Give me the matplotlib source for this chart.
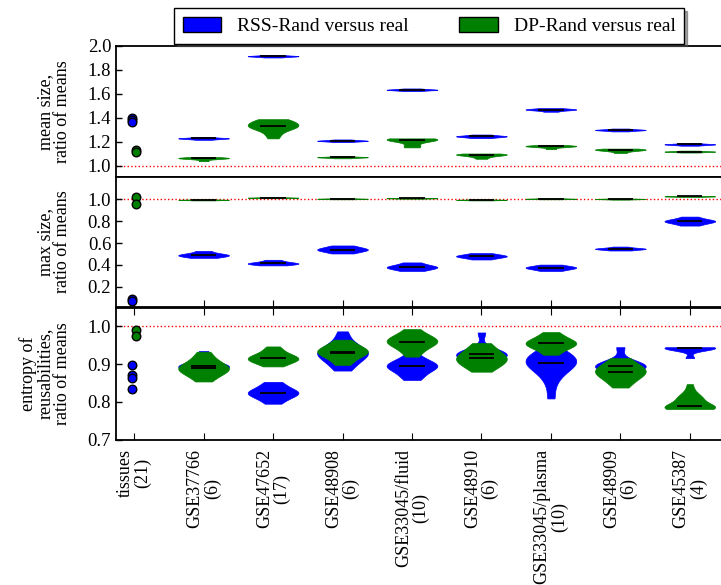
import matplotlib
matplotlib.use("Agg")
import matplotlib.pyplot as plt
from matplotlib.patches import Patch

plt.rcParams['font.family'] = ['Liberation Serif', 'DejaVu Serif']
plt.rcParams['font.size'] = 13

labels = ["tissues\n(21)", "GSE37766\n(6)", "GSE47652\n(17)", "GSE48908\n(6)",
          "GSE33045/fluid\n(10)", "GSE48910\n(6)", "GSE33045/plasma\n(10)",
          "GSE48909\n(6)", "GSE45387\n(4)"]

# tissues column: single values per tissue (drawn as dots)
rss_mean_pts = [1.40, 1.38, 1.37]
dp_mean_pts = [1.13, 1.12]
rss_max_pts = [0.09, 0.07]
dp_max_pts = [1.02, 0.96]
rss_ent_pts = [0.897, 0.870, 0.862, 0.833]
dp_ent_pts = [0.991, 0.975]

# randomisation samples for the 8 datasets
rss_mean = [
    [1.218, 1.226, 1.229, 1.23, 1.231, 1.234, 1.242],
    [1.904, 1.911, 1.914, 1.915, 1.916, 1.919, 1.926],
    [1.199, 1.206, 1.209, 1.21, 1.211, 1.214, 1.221],
    [1.624, 1.631, 1.634, 1.635, 1.636, 1.639, 1.646],
    [1.232, 1.241, 1.245, 1.247, 1.249, 1.253, 1.262],
    [1.452, 1.464, 1.468, 1.47, 1.472, 1.475, 1.482],
    [1.288, 1.296, 1.299, 1.30, 1.301, 1.304, 1.312],
    [1.169, 1.176, 1.179, 1.18, 1.181, 1.184, 1.191],
]
dp_mean = [
    [1.04, 1.061, 1.064, 1.065, 1.066, 1.069, 1.074],
    [1.23, 1.26, 1.29, 1.31, 1.32, 1.325, 1.33, 1.335, 1.345, 1.355, 1.365, 1.375, 1.385, 1.39],
    [1.064, 1.07, 1.072, 1.073, 1.074, 1.076, 1.082],
    [1.155, 1.17, 1.212, 1.218, 1.22, 1.222, 1.224, 1.23],
    [1.06, 1.075, 1.085, 1.09, 1.094, 1.096, 1.098, 1.10, 1.104],
    [1.14, 1.16, 1.163, 1.165, 1.167, 1.169, 1.174],
    [1.108, 1.125, 1.132, 1.135, 1.137, 1.14, 1.145],
    [1.112, 1.117, 1.119, 1.12, 1.121, 1.123, 1.128],
]
rss_max = [
    [0.465, 0.478, 0.485, 0.49, 0.495, 0.505, 0.528],
    [0.396, 0.407, 0.412, 0.414, 0.418, 0.43, 0.447],
    [0.505, 0.524, 0.535, 0.54, 0.548, 0.56, 0.578],
    [0.345, 0.363, 0.375, 0.38, 0.385, 0.40, 0.423],
    [0.45, 0.467, 0.475, 0.48, 0.485, 0.493, 0.508],
    [0.345, 0.36, 0.37, 0.375, 0.38, 0.388, 0.403],
    [0.532, 0.541, 0.546, 0.548, 0.55, 0.555, 0.568],
    [0.76, 0.783, 0.795, 0.80, 0.805, 0.815, 0.842],
]
dp_max = [
    [0.99, 0.993, 0.994, 0.995, 0.996, 0.997, 1.0],
    [1.01, 1.013, 1.014, 1.015, 1.016, 1.017, 1.02],
    [1.0, 1.003, 1.004, 1.005, 1.006, 1.007, 1.01],
    [1.005, 1.008, 1.009, 1.01, 1.011, 1.012, 1.015],
    [0.99, 0.993, 0.994, 0.995, 0.996, 0.997, 1.0],
    [1.0, 1.003, 1.004, 1.005, 1.006, 1.007, 1.01],
    [0.997, 1.001, 1.002, 1.003, 1.004, 1.005, 1.008],
    [1.022, 1.025, 1.026, 1.027, 1.028, 1.029, 1.032],
]
rss_ent = [
    [0.878, 0.886, 0.89, 0.892, 0.894, 0.895, 0.896, 0.898, 0.905, 0.92, 0.935],
    [0.795, 0.805, 0.813, 0.818, 0.822, 0.824, 0.826, 0.83, 0.836, 0.845, 0.853],
    [0.883, 0.895, 0.905, 0.915, 0.922, 0.926, 0.929, 0.932, 0.936, 0.94, 0.95, 0.965, 0.987],
    [0.858, 0.868, 0.878, 0.886, 0.891, 0.894, 0.897, 0.90, 0.905, 0.912, 0.925],
    [0.905, 0.915, 0.92, 0.924, 0.927, 0.929, 0.931, 0.935, 0.984],
    [0.809, 0.85, 0.872, 0.885, 0.893, 0.899, 0.903, 0.907, 0.912, 0.917, 0.922, 0.928, 0.938],
    [0.875, 0.885, 0.89, 0.894, 0.896, 0.898, 0.90, 0.91, 0.945],
    [0.916, 0.941, 0.942, 0.943, 0.943, 0.944, 0.945],
]
dp_ent = [
    [0.854, 0.865, 0.873, 0.879, 0.884, 0.887, 0.889, 0.892, 0.896, 0.902, 0.91, 0.92, 0.933],
    [0.894, 0.902, 0.907, 0.911, 0.914, 0.916, 0.918, 0.922, 0.928, 0.936, 0.947],
    [0.898, 0.91, 0.92, 0.927, 0.931, 0.933, 0.935, 0.94, 0.946, 0.954, 0.965],
    [0.92, 0.935, 0.945, 0.952, 0.957, 0.96, 0.963, 0.967, 0.972, 0.98, 0.993],
    [0.88, 0.892, 0.90, 0.906, 0.911, 0.916, 0.92, 0.926, 0.934, 0.944, 0.956],
    [0.925, 0.937, 0.944, 0.949, 0.953, 0.955, 0.958, 0.962, 0.967, 0.975, 0.985],
    [0.838, 0.853, 0.862, 0.87, 0.876, 0.88, 0.884, 0.889, 0.895, 0.905, 0.916],
    [0.781, 0.781, 0.781, 0.782, 0.782, 0.783, 0.784, 0.786, 0.788, 0.79, 0.793,
     0.797, 0.805, 0.809, 0.811, 0.813, 0.82, 0.83, 0.847],
]

BLUE = "#0000ff"
GREEN = "#008000"

fig = plt.figure(figsize=(7.21, 5.85), dpi=100)
left, width = 0.161, 0.868
ax1 = fig.add_axes([left, 0.6974, width, 0.2240])
ax2 = fig.add_axes([left, 0.4757, width, 0.2217])
ax3 = fig.add_axes([left, 0.2487, width, 0.2248])

pos = list(range(1, len(labels)))

def violins(ax, data, color):
    parts = ax.violinplot(data, positions=pos, widths=0.73,
                          showmedians=True, showextrema=False)
    for b in parts['bodies']:
        b.set_facecolor(color)
        b.set_edgecolor(color)
        b.set_linewidth(0.5)
        b.set_alpha(1)
    parts['cmedians'].set_color('black')
    parts['cmedians'].set_linewidth(1.3)

panels = [
    (ax1, rss_mean, dp_mean, rss_mean_pts, dp_mean_pts, "mean size,\nratio of means",
     (0.908, 2.0), [1.0, 1.2, 1.4, 1.6, 1.8, 2.0]),
    (ax2, rss_max, dp_max, rss_max_pts, dp_max_pts, "max size,\nratio of means",
     (0.018, 1.204), [0.2, 0.4, 0.6, 0.8, 1.0]),
    (ax3, rss_ent, dp_ent, rss_ent_pts, dp_ent_pts, "entropy of\nreusabilities,\nratio of means",
     (0.7, 1.049), [0.7, 0.8, 0.9, 1.0]),
]

for ax, rss, dp, rpts, dpts, ylab, ylim, yt in panels:
    ax.axhline(1.0, color='red', ls=':', lw=1, zorder=0)
    violins(ax, rss, BLUE)
    violins(ax, dp, GREEN)
    ax.scatter([-0.03] * len(rpts), rpts, s=38, c=BLUE, edgecolors='black', linewidths=1, zorder=3)
    ax.scatter([0.03] * len(dpts), dpts, s=38, c=GREEN, edgecolors='black', linewidths=1, zorder=3)
    ax.set_xlim(-0.26, 8.75)
    ax.set_ylim(*ylim)
    ax.set_yticks(yt)
    ax.set_yticklabels([f"{v:.1f}" for v in yt])
    ax.set_ylabel(ylab, linespacing=1.0)
    ax.yaxis.set_label_coords(-0.072, 0.5)
    ax.tick_params(axis='y', direction='in', length=4, width=1, labelsize=13.5)
    for s in ax.spines.values():
        s.set_linewidth(1.3)
    ax.spines['right'].set_visible(False)
    ax.set_xticks(range(len(labels)))

ax1.tick_params(axis='x', bottom=False, labelbottom=False)
ax2.tick_params(axis='x', direction='in', length=5, bottom=True, labelbottom=False)
ax3.tick_params(axis='x', direction='in', length=5, top=True, bottom=True, pad=7)
ax3.set_xticklabels(labels, rotation=90, va='top', ha='center', linespacing=1.0,
                    multialignment='center', fontsize=13)

handles = [Patch(facecolor=BLUE, edgecolor='black', label='RSS-Rand versus real'),
           Patch(facecolor=GREEN, edgecolor='black', label='DP-Rand versus real')]
leg = fig.legend(handles=handles, loc='upper center', bbox_to_anchor=(0.595, 1.003),
                 ncol=2, fancybox=False, shadow=True, fontsize=14, handlelength=2.0,
                 handleheight=0.8, columnspacing=2.6, borderpad=0.45)
leg.get_frame().set_edgecolor('black')
leg.get_frame().set_linewidth(1)

fig.savefig("out.png", dpi=100)
